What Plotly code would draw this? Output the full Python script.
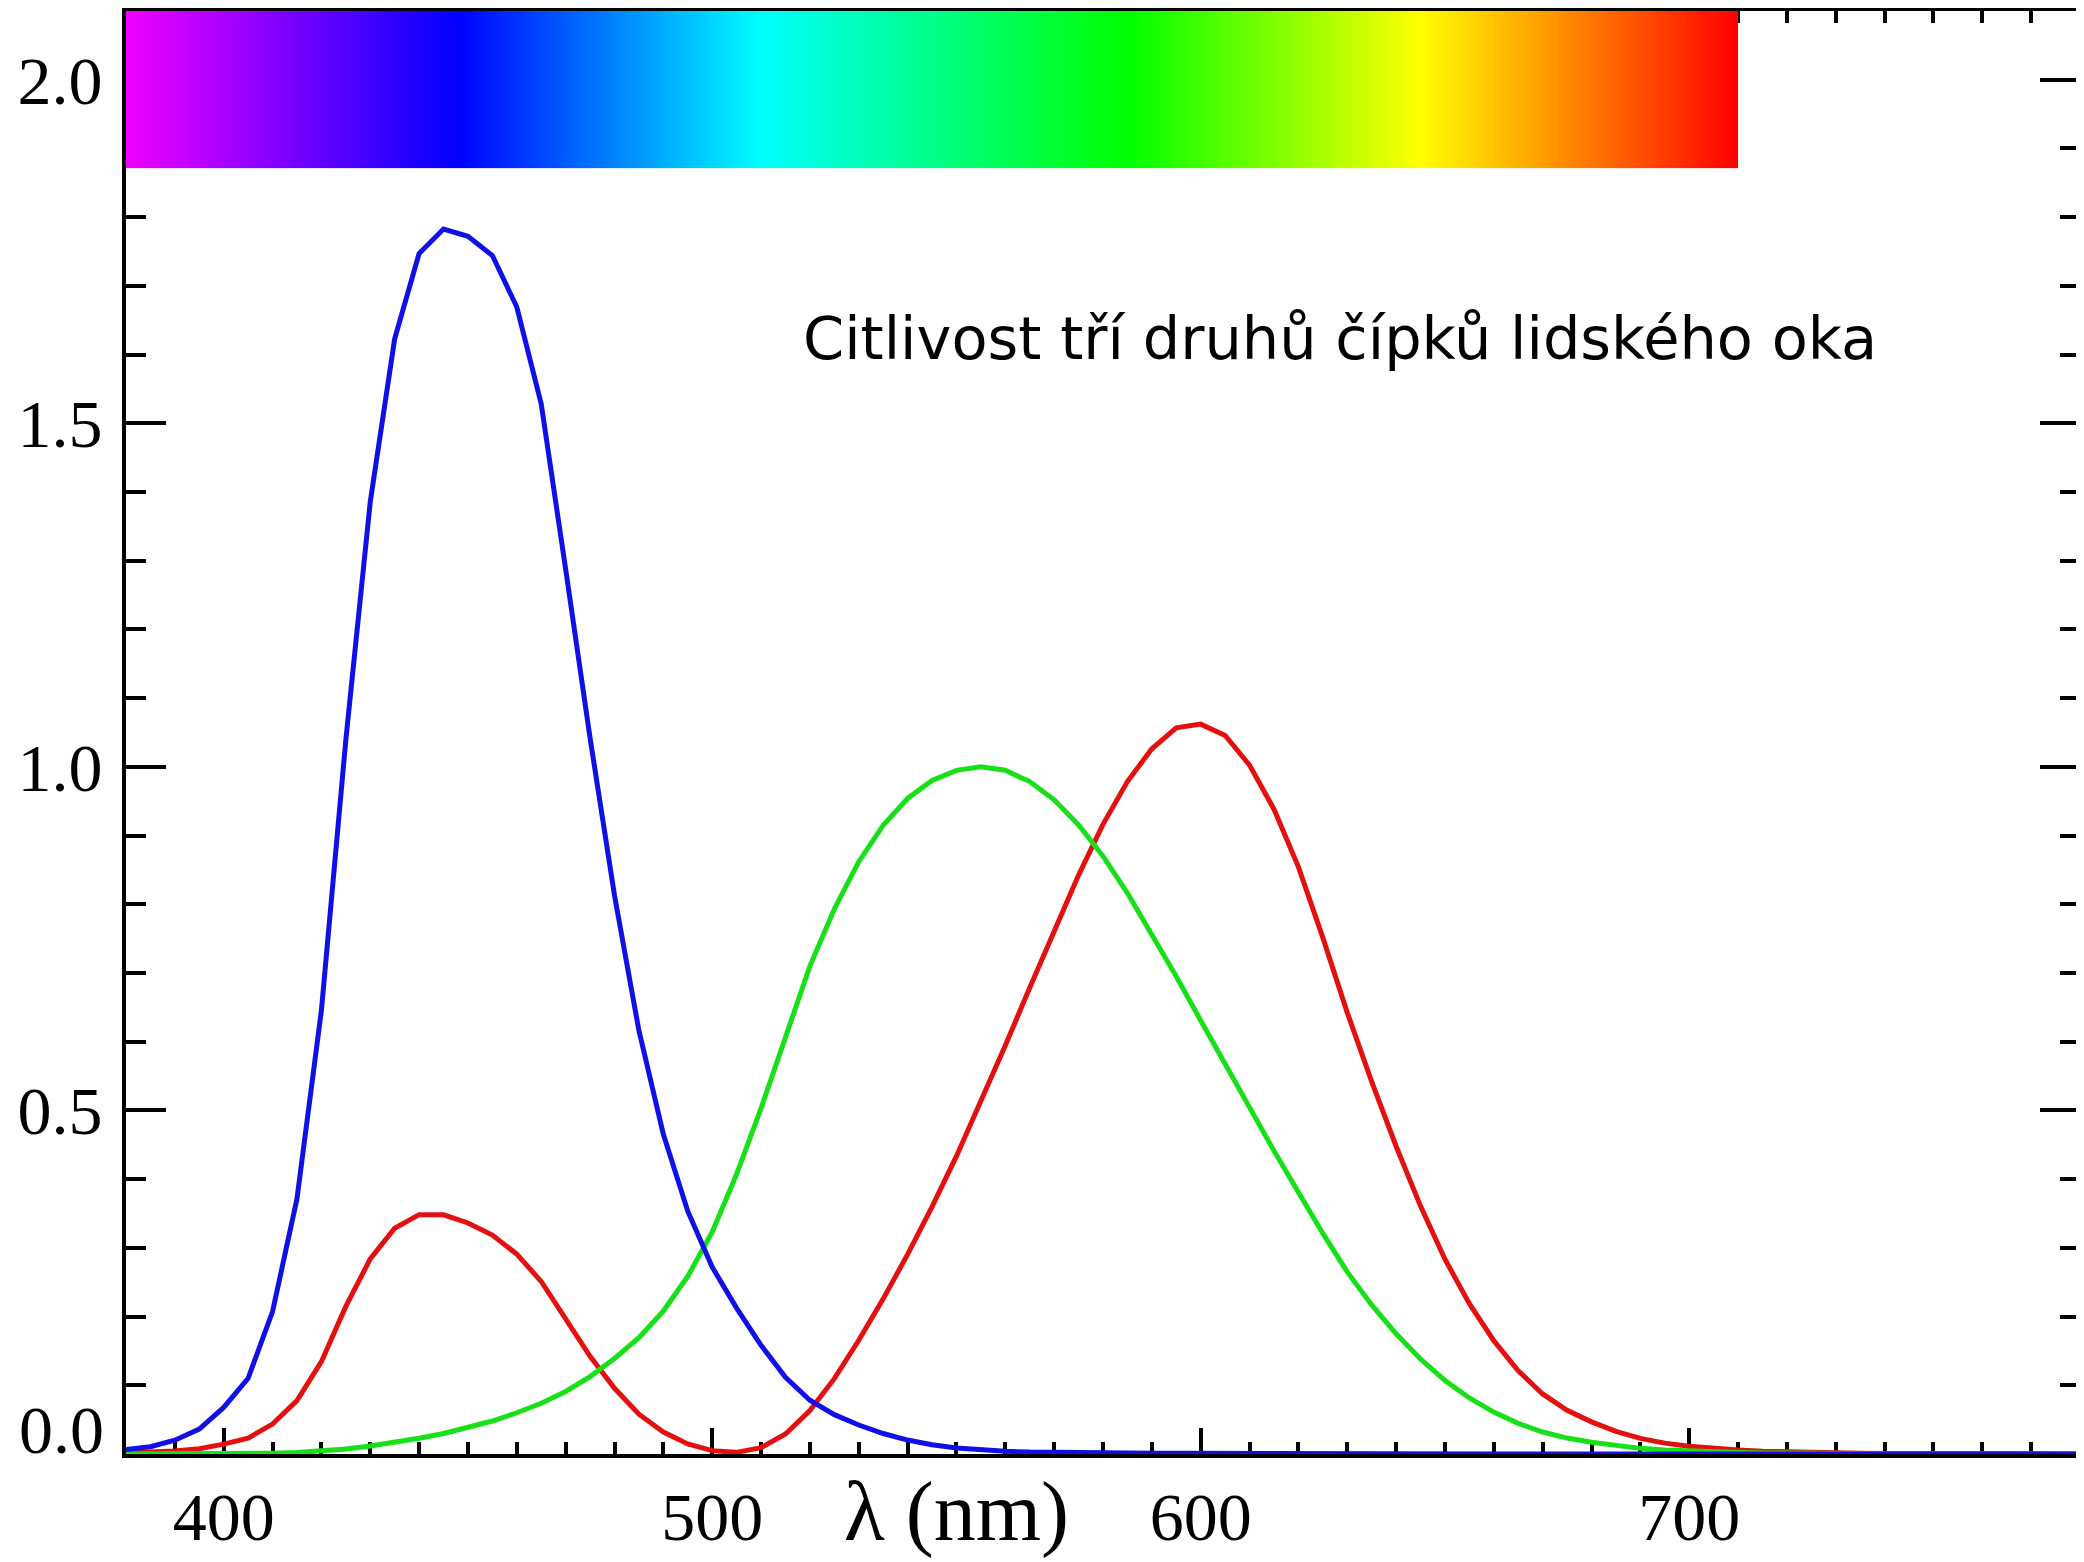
import plotly.graph_objects as go
import numpy as np

# Wavelengths (nm) and the three sensitivity curves
wavelength = [380, 385, 390, 395, 400, 405, 410, 415, 420, 425, 430, 435, 440, 445, 450,
              455, 460, 465, 470, 475, 480, 485, 490, 495, 500, 505, 510, 515, 520, 525,
              530, 535, 540, 545, 550, 555, 560, 565, 570, 575, 580, 585, 590, 595, 600,
              605, 610, 615, 620, 625, 630, 635, 640, 645, 650, 655, 660, 665, 670, 675,
              680, 685, 690, 695, 700, 705, 710, 715, 720, 725, 730, 735, 740, 745, 750,
              755, 760, 765, 770, 775, 780]

red_curve = [0.001368, 0.002236, 0.004243, 0.007650, 0.014310, 0.023190, 0.043510, 0.077630,
             0.134380, 0.214770, 0.283900, 0.328500, 0.348280, 0.348060, 0.336200, 0.318700,
             0.290800, 0.251100, 0.195360, 0.142100, 0.095640, 0.057950, 0.032010, 0.014700,
             0.004900, 0.002400, 0.009300, 0.029100, 0.063270, 0.109600, 0.165500, 0.225750,
             0.290400, 0.359700, 0.433450, 0.512050, 0.594500, 0.678400, 0.762100, 0.842500,
             0.916300, 0.978600, 1.026300, 1.056700, 1.062200, 1.045600, 1.002600, 0.938400,
             0.854450, 0.751400, 0.642400, 0.541900, 0.447900, 0.360800, 0.283500, 0.218700,
             0.164900, 0.121200, 0.087400, 0.063600, 0.046770, 0.032900, 0.022700, 0.015840,
             0.011359, 0.008111, 0.005790, 0.004109, 0.002899, 0.002049, 0.001440, 0.001000,
             0.000690, 0.000476, 0.000332, 0.000235, 0.000166, 0.000117, 0.000083, 0.000059,
             0.000042]

green_curve = [0.000039, 0.000064, 0.000120, 0.000217, 0.000396, 0.000640, 0.001210, 0.002180,
               0.004000, 0.007300, 0.011600, 0.016840, 0.023000, 0.029800, 0.038000, 0.048000,
               0.060000, 0.073900, 0.090980, 0.112600, 0.139020, 0.169300, 0.208020, 0.258600,
               0.323000, 0.407300, 0.503000, 0.608200, 0.710000, 0.793200, 0.862000, 0.914850,
               0.954000, 0.980300, 0.994950, 1.000000, 0.995000, 0.978600, 0.952000, 0.915400,
               0.870000, 0.816300, 0.757000, 0.694900, 0.631000, 0.566800, 0.503000, 0.441200,
               0.381000, 0.321000, 0.265000, 0.217000, 0.175000, 0.138200, 0.107000, 0.081600,
               0.061000, 0.044580, 0.032000, 0.023200, 0.017000, 0.011920, 0.008210, 0.005723,
               0.004102, 0.002929, 0.002091, 0.001484, 0.001047, 0.000740, 0.000520, 0.000361,
               0.000249, 0.000172, 0.000120, 0.000085, 0.000060, 0.000042, 0.000030, 0.000021,
               0.000015]

blue_curve = [0.006450, 0.010550, 0.020050, 0.036210, 0.067850, 0.110200, 0.207400, 0.371300,
              0.645600, 1.039050, 1.385600, 1.622960, 1.747060, 1.782600, 1.772110, 1.744100,
              1.669200, 1.528100, 1.287640, 1.041900, 0.812950, 0.616200, 0.465180, 0.353300,
              0.272000, 0.212300, 0.158200, 0.111700, 0.078250, 0.057250, 0.042160, 0.029840,
              0.020300, 0.013400, 0.008750, 0.005750, 0.003900, 0.002750, 0.002100, 0.001800,
              0.001650, 0.001400, 0.001100, 0.001000, 0.000800, 0.000600, 0.000340, 0.000240,
              0.000190, 0.000100, 0.000050, 0.000030, 0.000020, 0.000010, 0.0, 0.0,
              0.0, 0.0, 0.0, 0.0, 0.0, 0.0, 0.0, 0.0,
              0.0, 0.0, 0.0, 0.0, 0.0, 0.0, 0.0, 0.0,
              0.0, 0.0, 0.0, 0.0, 0.0, 0.0, 0.0, 0.0,
              0.0]

# Spectrum bar (wavelength stops and colours)
spectrum_nm = [380, 448, 510, 585, 645, 710]
spectrum_colors = ["#f000ff", "#0000ff", "#00ffff", "#00ff00", "#ffff00", "#ff0000"]
spectrum_band = [1.872, 2.11]

x_tickvals = [400, 500, 600, 700]
y_tickvals = [0.0, 0.5, 1.0, 1.5, 2.0]
y_ticktext = ["", "0.5", "1.0", "1.5", "2.0"]

title_text = "Citlivost tří druhů čípků lidského oka"
x_label = "λ (nm)"

lo, hi = spectrum_nm[0], spectrum_nm[-1]
colorscale = [[(v - lo) / (hi - lo), c] for v, c in zip(spectrum_nm, spectrum_colors)]
edges = np.arange(lo, hi + 1, 1)
centers = (edges[:-1] + edges[1:]) / 2.0

fig = go.Figure()
fig.add_trace(go.Heatmap(
    x=edges, y=spectrum_band, z=[centers.tolist()],
    colorscale=colorscale, zmin=lo, zmax=hi, showscale=False, hoverinfo="skip",
))

line_w = 5
fig.add_trace(go.Scatter(x=wavelength, y=red_curve, mode="lines",
                         line=dict(color="#e41010", width=line_w), showlegend=False))
fig.add_trace(go.Scatter(x=wavelength, y=green_curve, mode="lines",
                         line=dict(color="#18e018", width=line_w), showlegend=False))
fig.add_trace(go.Scatter(x=wavelength, y=blue_curve, mode="lines",
                         line=dict(color="#1010e6", width=line_w), showlegend=False))

serif = "Liberation Serif"
tick_font = dict(family=serif, size=68, color="black")

fig.update_xaxes(
    range=[380, 780], tickvals=x_tickvals, ticks="inside", ticklen=26, tickwidth=4,
    tickcolor="black", showline=True, linecolor="black", linewidth=4, mirror="allticks",
    showgrid=False, zeroline=False, tickfont=tick_font, layer="below traces",
    ticklabelstandoff=0, automargin=False,
    minor=dict(dtick=10, tick0=380, ticks="inside", ticklen=12, tickwidth=4,
               tickcolor="black", showgrid=False),
)
fig.update_yaxes(
    range=[0, 2.1], tickvals=y_tickvals, ticktext=y_ticktext, ticks="inside", ticklen=40,
    tickwidth=4, tickcolor="black", showline=True, linecolor="black", linewidth=4,
    mirror="allticks", showgrid=False, zeroline=False, tickfont=tick_font,
    layer="below traces", ticklabelstandoff=6, automargin=False,
    minor=dict(dtick=0.1, tick0=0, ticks="inside", ticklen=20, tickwidth=4,
               tickcolor="black", showgrid=False),
)

fig.add_annotation(x=380, y=0, xref="x", yref="y", text="0.0", showarrow=False,
                   xanchor="right", yanchor="middle", xshift=-20, yshift=24,
                   font=tick_font)
fig.add_annotation(x=550, y=-0.040, xref="x", yref="paper", text=x_label, showarrow=False,
                   xanchor="center", yanchor="middle",
                   font=dict(family=serif, size=84, color="black"))
fig.add_annotation(x=628.5, y=1.623, xref="x", yref="y", text=title_text, showarrow=False,
                   xanchor="center", yanchor="middle",
                   font=dict(family="DejaVu Sans", size=59, color="black"))

# the page body adds an 8 px margin, so the figure is sized to fit inside the window
fig.update_layout(
    width=2076, height=1554,
    margin=dict(l=118, r=4, t=3, b=108, pad=0),
    paper_bgcolor="white", plot_bgcolor="white",
    showlegend=False,
)

fig.write_html("out.html")
